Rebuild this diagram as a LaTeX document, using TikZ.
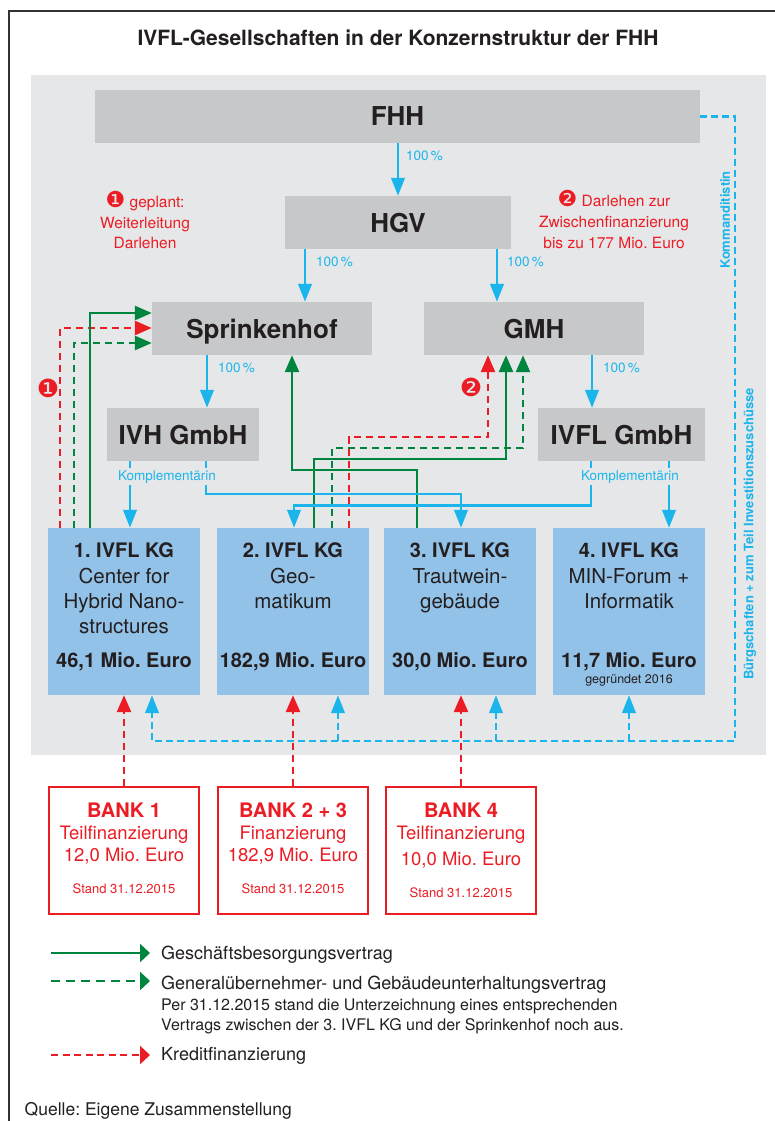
\documentclass[tikz,border=0pt]{standalone}
\usepackage{fontspec}
\setmainfont{TeX Gyre Heros}
\newfontfamily\dejavu{DejaVu Sans}
\usetikzlibrary{arrows.meta,calc}
\frenchspacing
\definecolor{boxgray}{HTML}{C7C8CA}
\definecolor{panelgray}{HTML}{E6E7E8}
\definecolor{kgblue}{HTML}{93C2E8}
\definecolor{cyanline}{HTML}{1BB5EC}
\definecolor{grn}{HTML}{00853F}
\definecolor{rd}{HTML}{EC1C24}
\definecolor{txt}{HTML}{231F20}
\definecolor{framecol}{HTML}{333333}
\tikzset{
  graybox/.style={fill=boxgray, inner sep=0pt, text depth=0pt, text=txt,
    font=\fontsize{26}{30}\selectfont\bfseries},
  kgbox/.style={fill=kgblue, inner sep=0pt},
  bankbox/.style={draw=rd, line width=2.6pt, fill=white, inner sep=0pt},
  kgbold/.style={anchor=base, inner sep=0pt, text=txt, font=\fontsize{20}{24}\selectfont\bfseries},
  kgreg/.style={anchor=base, inner sep=0pt, text=txt, font=\fontsize{20.5}{24}\selectfont},
  kgsmall/.style={anchor=base, inner sep=0pt, text=txt, font=\fontsize{12.5}{14}\selectfont},
  bankbold/.style={anchor=base, inner sep=0pt, text=rd, font=\fontsize{20}{24}\selectfont\bfseries},
  bankreg/.style={anchor=base, inner sep=0pt, text=rd, font=\fontsize{18.5}{22}\selectfont},
  banksmall/.style={anchor=base, inner sep=0pt, text=rd, font=\fontsize{13}{15}\selectfont},
  redtxt/.style={anchor=base, inner sep=0pt, text=rd, font=\fontsize{15.5}{18}\selectfont},
  pct/.style={anchor=base west, inner sep=0pt, text=cyanline, font=\fontsize{13.5}{16}\selectfont},
  komp/.style={anchor=base, inner xsep=1pt, inner ysep=2pt, fill=panelgray, text=cyanline, font=\fontsize{13.5}{16}\selectfont},
  sidetxt/.style={rotate=90, inner sep=0pt, text=cyanline, font=\fontsize{13}{15}\selectfont\bfseries},
  marker/.style={inner sep=0pt, text=rd, font={\dejavu\fontsize{25}{27}\selectfont}},
  legtxt/.style={anchor=base west, inner xsep=11pt, inner ysep=0pt, text=txt, font=\fontsize{18}{21}\selectfont},
  legsub/.style={anchor=base west, inner sep=0pt, text=txt, font=\fontsize{16}{19}\selectfont},
  cyarrow/.style={draw=cyanline, line width=2.5pt, -{Triangle[length=18pt,width=13.5pt]}},
  cydash/.style={draw=cyanline, line width=2.4pt, dash pattern=on 7pt off 4pt},
  cydasharrow/.style={cydash, -{Triangle[length=18pt,width=13.5pt]}},
  grarrow/.style={draw=grn, line width=2.6pt, -{Triangle[length=17pt,width=14pt]}},
  grdash/.style={grarrow, dash pattern=on 7pt off 5pt},
  rdarrow/.style={draw=rd, line width=2.6pt, dash pattern=on 7pt off 5pt, -{Triangle[length=17pt,width=14pt]}},
  leggr/.style={draw=grn, line width=2.6pt, -{Triangle[length=10pt,width=18pt]}},
  leggrdash/.style={leggr, dash pattern=on 9pt off 6pt},
  legrd/.style={draw=rd, line width=2.6pt, dash pattern=on 7pt off 4.5pt, -{Triangle[length=10pt,width=18pt]}},
}
\newcommand{\rnum}[1]{{\dejavu\fontsize{22}{22}\selectfont #1}}
\begin{document}
\begin{tikzpicture}[x=1pt,y=-1pt]
\useasboundingbox (0,0) rectangle (775,1121);
\fill[white] (0,0) rectangle (775,1121);
\draw[framecol, line width=1.5pt] (9,1125) -- (9,11) -- (780,11);
\node[anchor=base, inner sep=0pt, text=txt, font=\fontsize{21}{25}\selectfont\bfseries] (title) at (398,46) {IVFL-Gesellschaften in der Konzernstruktur der FHH};
\fill[panelgray] (31,75) rectangle (766,755);

% gray boxes
\node[graybox, minimum width=605pt, minimum height=53pt] (FHH) at (397.5,116.5) {FHH};
\node[graybox, minimum width=226pt, minimum height=53pt] (HGV) at (398,222.5) {HGV};
\node[graybox, minimum width=220pt, minimum height=53pt] (Spr) at (262,328.5) {Sprinkenhof};
\node[graybox, minimum width=220pt, minimum height=53pt] (GMH) at (534,328.5) {GMH};
\node[graybox, minimum width=152pt, minimum height=53pt] (IVH) at (183,434.5) {IVH GmbH};
\node[graybox, minimum width=167pt, minimum height=53pt] (IVFL) at (621.5,434.5) {IVFL GmbH};

% KG boxes
\node[kgbox, minimum width=152pt, minimum height=167pt] (KG1) at (124,611.5) {};
\node[kgbox, minimum width=152pt, minimum height=167pt] (KG2) at (293,611.5) {};
\node[kgbox, minimum width=152pt, minimum height=167pt] (KG3) at (460,611.5) {};
\node[kgbox, minimum width=152pt, minimum height=167pt] (KG4) at (629,611.5) {};

\node[kgbold] (KG1a) at (KG1.north |- 0,557) {1. IVFL KG};
\node[kgreg]  (KG1b) at (KG1.north |- 0,583) {Center for};
\node[kgreg]  (KG1c) at (KG1.north |- 0,608) {Hybrid Nano-};
\node[kgreg]  (KG1d) at (KG1.north |- 0,633) {structures};
\node[kgbold] (KG1e) at (KG1.north |- 0,667) {46,1 Mio. Euro};

\node[kgbold] (KG2a) at (KG2.north |- 0,557) {2. IVFL KG};
\node[kgreg]  (KG2b) at (KG2.north |- 0,583) {Geo-};
\node[kgreg]  (KG2c) at (KG2.north |- 0,608) {matikum};
\node[kgbold] (KG2e) at (KG2.north |- 0,667) {182,9 Mio. Euro};

\node[kgbold] (KG3a) at (KG3.north |- 0,557) {3. IVFL KG};
\node[kgreg]  (KG3b) at (KG3.north |- 0,583) {Trautwein-};
\node[kgreg]  (KG3c) at (KG3.north |- 0,608) {gebäude};
\node[kgbold] (KG3e) at (KG3.north |- 0,667) {30,0 Mio. Euro};

\node[kgbold] (KG4a) at (KG4.north |- 0,557) {4. IVFL KG};
\node[kgreg]  (KG4b) at (KG4.north |- 0,583) {MIN-Forum +};
\node[kgreg]  (KG4c) at (KG4.north |- 0,608) {Informatik};
\node[kgbold] (KG4e) at (KG4.north |- 0,667) {11,7 Mio. Euro};
\node[kgsmall] (KG4f) at (KG4.north |- 0,683) {gegründet 2016};

% bank boxes
\node[bankbox, minimum width=150pt, minimum height=127pt] (B1) at (124,850.5) {};
\node[bankbox, minimum width=150pt, minimum height=127pt] (B2) at (293,850.5) {};
\node[bankbox, minimum width=150pt, minimum height=127pt] (B4) at (461,850.5) {};

\node[bankbold]  (B1a) at (B1.north |- 0,817) {BANK 1};
\node[bankreg]   (B1b) at (B1.north |- 0,839) {Teilfinanzierung};
\node[bankreg]   (B1c) at (B1.north |- 0,861) {12,0 Mio. Euro};
\node[banksmall] (B1d) at (B1.north |- 0,893) {Stand 31.12.2015};

\node[bankbold]  (B2a) at (B2.north |- 0,817) {BANK 2 + 3};
\node[bankreg]   (B2b) at (B2.north |- 0,839) {Finanzierung};
\node[bankreg]   (B2c) at (B2.north |- 0,861) {182,9 Mio. Euro};
\node[banksmall] (B2d) at (B2.north |- 0,893) {Stand 31.12.2015};

\node[bankbold]  (B4a) at (B4.north |- 0,817) {BANK 4};
\node[bankreg]   (B4b) at (B4.north |- 0,839) {Teilfinanzierung};
\node[bankreg]   (B4c) at (B4.north |- 0,865) {10,0 Mio. Euro};
\node[banksmall] (B4d) at (B4.north |- 0,897) {Stand 31.12.2015};

% red notes
\node[redtxt] (n1a) at (145,207) {\rnum{❶} geplant:};
\node[redtxt] (n1b) at (145,228) {Weiterleitung};
\node[redtxt] (n1c) at (145,248) {Darlehen};
\node[redtxt] (n2a) at (614,206) {\rnum{❷} Darlehen zur};
\node[redtxt] (n2b) at (614,227.5) {Zwischenfinanzierung};
\node[redtxt] (n2c) at (614,248.5) {bis zu 177 Mio. Euro};
\node[marker] (m1) at (48,388) {❶};
\node[marker] (m2) at (471,387) {❷};

% ownership arrows
\draw[cyarrow] (FHH.south -| HGV.north) -- (HGV.north);
\draw[cyarrow] (HGV.south -| 305,0) -- (Spr.north -| 305,0);
\draw[cyarrow] (HGV.south -| 497,0) -- (GMH.north -| 497,0);
\draw[cyarrow] (Spr.south -| 207,0) -- (IVH.north -| 207,0);
\draw[cyarrow] (GMH.south -| 592,0) -- (IVFL.north -| 592,0);
\node[pct] (p1) at (406,160) {100\,\%};
\node[pct] (p2) at (316,266.5) {100\,\%};
\node[pct] (p3) at (507,266.5) {100\,\%};
\node[pct] (p4) at (218,372) {100\,\%};
\node[pct] (p5) at (603,372) {100\,\%};

% contract lines to Sprinkenhof
\draw[rdarrow] (KG1.north -| 60,0) |- (Spr.west |- 0,328);
\draw[grdash]  (KG1.north -| 74,0) |- (Spr.west |- 0,343);
\draw[grarrow] (KG1.north -| 90,0) |- (Spr.west |- 0,313);
\draw[grarrow] (KG3.north -| 417,0) -- (417,470) -| (Spr.south -| 292,0);
% contract lines to GMH
\draw[grarrow] (KG2.north -| 314,0) -- (314,459) -| (GMH.south -| 506,0);
\draw[grdash]  (KG2.north -| 332,0) -- (332,448) -| (GMH.south -| 523,0);
\draw[rdarrow] (KG2.north -| 349,0) -- (349,437) -| (GMH.south -| 488,0);

% Komplementaerin lines
\draw[cyarrow] (IVH.south -| 130,0) -- (KG1.north -| 130,0);
\draw[cyarrow] (IVH.south -| 206,0) |- (461,494) -- (KG3.north -| 461,0);
\draw[cyarrow] (IVFL.south -| 591,0) |- (294,505.5) -- (KG2.north -| 294,0);
\draw[cyarrow] (IVFL.south -| 669,0) -- (KG4.north -| 669,0);
\node[komp] (k1) at (167,480) {Komplementärin};
\node[komp] (k2) at (630,480) {Komplementärin};

% FHH guarantees
\draw[cydasharrow] (FHH.east) -| (735,741) -| (KG1.south -| 152,0);
\draw[cydasharrow] (338,741) -- (KG2.south -| 338,0);
\draw[cydasharrow] (496,741) -- (KG3.south -| 496,0);
\draw[cydasharrow] (629,741) -- (KG4.south -| 629,0);
\node[sidetxt] (komm) at (725,220) {Kommanditistin};
\node[sidetxt] (buerg) at (750,534) {Bürgschaften + zum Teil Investitionszuschüsse};

% bank credit
\draw[rdarrow] (B1.north) -- (KG1.south -| B1.north);
\draw[rdarrow] (B2.north) -- (KG2.south -| B2.north);
\draw[rdarrow] (B4.north) -- (KG3.south -| B4.north);

% legend
\coordinate (lg1) at (51,953);
\coordinate (lg2) at (51,981);
\coordinate (lg3) at (51,1055);
\node[legtxt] (L1) at (150,959.5) {Geschäftsbesorgungsvertrag};
\node[legtxt] (L2) at (150,989) {Generalübernehmer- und Gebäudeunterhaltungsvertrag};
\node[legsub] (L2b) at (161,1010) {Per 31.12.2015 stand die Unterzeichnung eines entsprechenden};
\node[legsub] (L2c) at (161,1030) {Vertrags zwischen der 3. IVFL KG und der Sprinkenhof noch aus.};
\node[legtxt] (L3) at (150,1060.5) {Kreditfinanzierung};
\draw[leggr] (lg1) -- (lg1 -| L1.west);
\draw[leggrdash] (lg2) -- (lg2 -| L2.west);
\draw[legrd] (lg3) -- (lg3 -| L3.west);

\node[anchor=base west, inner sep=0pt, text=txt, font=\fontsize{17.5}{20}\selectfont] (src) at (24.5,1115) {Quelle: Eigene Zusammenstellung};
\end{tikzpicture}
\end{document}
